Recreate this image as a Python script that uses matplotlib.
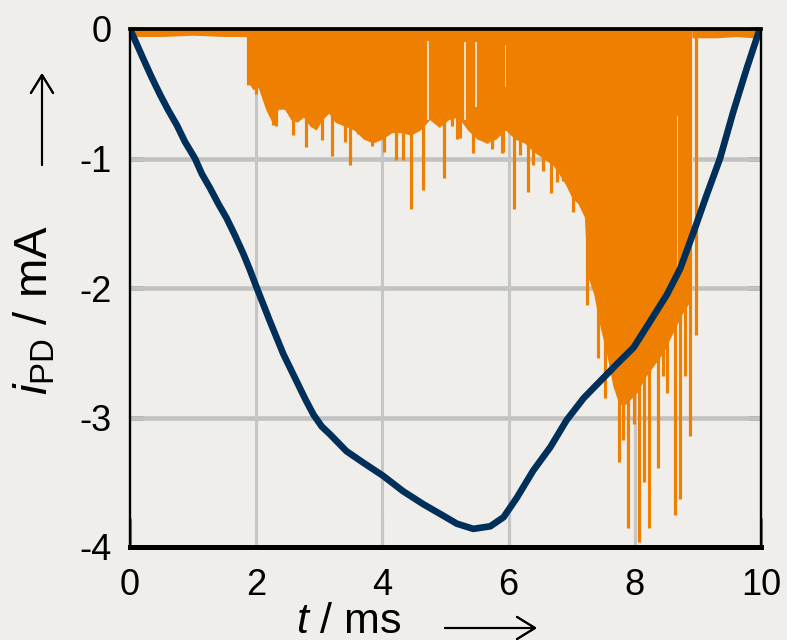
import numpy as np
import matplotlib
matplotlib.use("Agg")
import matplotlib.pyplot as plt

plt.rcParams['font.family'] = ['Liberation Sans', 'DejaVu Sans']
plt.rcParams['mathtext.fontset'] = 'custom'
plt.rcParams['mathtext.rm'] = 'Liberation Sans'
plt.rcParams['mathtext.it'] = 'Liberation Sans:italic'

# blue trace: t in ms, i in mA
blue_t = [0.0, 0.11, 0.21, 0.34, 0.48, 0.61, 0.74, 0.87, 1.03, 1.14, 1.27, 1.40,
          1.53, 1.66, 1.80, 1.90, 2.01, 2.22, 2.43, 2.64, 2.78, 2.91, 3.04, 3.17,
          3.43, 3.70, 4.01, 4.33, 4.65, 4.97, 5.18, 5.44, 5.71, 5.92, 6.13, 6.39,
          6.66, 6.92, 7.19, 7.45, 7.71, 7.98, 8.24, 8.51, 8.72, 8.93, 9.14, 9.35,
          9.56, 9.77, 9.98]
blue_i = [0.0, -0.12, -0.23, -0.37, -0.51, -0.63, -0.74, -0.87, -1.00, -1.12, -1.23, -1.35,
          -1.46, -1.59, -1.74, -1.86, -2.00, -2.26, -2.51, -2.72, -2.86, -2.98, -3.07, -3.13,
          -3.26, -3.35, -3.45, -3.57, -3.67, -3.76, -3.82, -3.86, -3.84, -3.77, -3.62, -3.41,
          -3.23, -3.02, -2.85, -2.72, -2.59, -2.46, -2.26, -2.05, -1.85, -1.57, -1.28, -1.00,
          -0.64, -0.31, 0.0]

# orange trace: quiet baseline, dense core and single spikes
base_left_t = [0.0, 0.5, 1.0, 1.5, 1.86]
base_left_i = [-0.05, -0.05, -0.04, -0.05, -0.05]
base_right_t = [8.92, 9.3, 9.6, 9.9, 10.0]
base_right_i = [-0.06, -0.06, -0.05, -0.06, -0.05]

core_t = [1.86, 1.95, 2.03, 2.15, 2.25, 2.35, 2.45, 2.55, 2.65, 2.75, 2.85, 2.95,
          3.05, 3.15, 3.25, 3.40, 3.55, 3.70, 3.85, 4.00, 4.15, 4.30, 4.45, 4.60,
          4.75, 4.90, 5.05, 5.20, 5.35, 5.50, 5.65, 5.80, 5.95, 6.10, 6.25, 6.40,
          6.55, 6.70, 6.80, 6.90, 7.00, 7.10, 7.20, 7.25, 7.35, 7.45, 7.55, 7.65,
          7.75, 7.85, 7.95, 8.05, 8.15, 8.30, 8.45, 8.60, 8.75, 8.88]
core_i = [-0.40, -0.47, -0.45, -0.62, -0.72, -0.62, -0.62, -0.70, -0.72, -0.68, -0.75, -0.78,
          -0.70, -0.65, -0.72, -0.75, -0.78, -0.85, -0.88, -0.85, -0.80, -0.80, -0.82, -0.78,
          -0.70, -0.76, -0.70, -0.68, -0.78, -0.85, -0.88, -0.85, -0.78, -0.85, -0.88, -0.95,
          -1.00, -1.05, -1.12, -1.20, -1.30, -1.35, -1.45, -1.90, -2.05, -2.30, -2.50, -2.75,
          -2.90, -2.90, -2.85, -2.80, -2.70, -2.60, -2.50, -2.35, -2.20, -2.10]

spike_t = [1.87, 1.99, 2.27, 2.31, 2.59, 2.79, 3.05, 3.20, 3.41, 3.48, 3.62, 3.83,
           4.03, 4.21, 4.32, 4.46, 4.65, 4.91, 4.98, 5.10, 5.18, 5.23, 5.44, 5.65,
           5.73, 5.89, 5.91, 6.08, 6.18, 6.30, 6.38, 6.55, 6.67, 6.76, 6.87, 7.02,
           7.08, 7.13, 7.24, 7.32, 7.34, 7.41, 7.52, 7.68, 7.75, 7.81, 7.90, 7.98,
           8.07, 8.15, 8.23, 8.36, 8.44, 8.51, 8.63, 8.71, 8.80, 8.87, 8.97]
spike_i = [-0.43, -0.50, -0.74, -0.75, -0.82, -0.91, -0.86, -0.98, -0.87, -1.05, -0.81, -0.90,
           -0.95, -1.01, -1.01, -1.39, -1.24, -0.74, -1.15, -0.75, -0.85, -0.84, -0.96, -0.88,
           -0.93, -0.96, -0.95, -1.39, -0.97, -1.26, -1.05, -1.10, -1.27, -1.18, -1.17, -1.41,
           -1.33, -1.33, -2.13, -1.92, -1.63, -2.54, -2.85, -2.78, -3.34, -3.17, -3.85, -3.05,
           -3.96, -3.50, -3.85, -3.39, -2.68, -2.81, -3.75, -3.63, -2.68, -3.14, -2.36]

# thin gaps where the orange signal briefly returned to zero
gap_t = [4.72, 5.31, 5.48, 5.95, 8.67, 8.91]
gap_top = [-0.09, -0.10, -0.10, -0.12, -0.67, -0.08]
gap_bottom = [-0.70, -0.70, -0.60, -0.45, -1.85, -1.55]

bg = '#efeeeb'
orange = '#ef7f00'
navy = '#00305a'

fig = plt.figure(figsize=(7.87, 6.4), dpi=100, facecolor=bg)
ax = fig.add_axes([130/787, 93/640, 631/787, 518/640], facecolor=bg)

ax.fill_between(core_t, 0, core_i, color=orange, lw=0, zorder=2)
ax.vlines(gap_t, gap_bottom, gap_top, color=bg, lw=1.2, zorder=2.1)
ax.vlines(spike_t, 0, spike_i, color=orange, lw=2.3, zorder=2.2)
ax.fill_between(base_left_t, 0, base_left_i, color=orange, lw=1.5, edgecolor=orange, zorder=2)
ax.fill_between(base_right_t, 0, base_right_i, color=orange, lw=1.5, edgecolor=orange, zorder=2)
ax.plot(blue_t, blue_i, color=navy, lw=4.8, solid_capstyle='round',
        solid_joinstyle='round', zorder=3)

ax.set_xlim(0, 10)
ax.set_ylim(-4, 0)
ax.set_xticks([0, 2, 4, 6, 8, 10])
ax.set_yticks([0, -1, -2, -3, -4])
ax.set_yticklabels(['0', '-1', '-2', '-3', '-4'])

ax.set_axisbelow(True)
for y in [-1, -2, -3]:
    ax.axhline(y, color='#c2c2c2', lw=3.3, zorder=0.8)
for x in [2, 4, 6, 8]:
    ax.axvline(x, color='#c6c6c6', lw=2.2, zorder=0.8)

ax.tick_params(axis='x', direction='in', length=21, width=2.2, color='#808080',
               labelsize=26, pad=15, top=False)
ax.tick_params(axis='y', direction='in', length=9.5, width=3.3, color='#808080',
               labelsize=26, pad=13, right=True)

ax.spines['top'].set_linewidth(2.7)
ax.spines['bottom'].set_linewidth(3.6)
ax.spines['left'].set_linewidth(1.7)
ax.spines['right'].set_linewidth(1.7)
for s in ax.spines.values():
    s.set_zorder(4)

fig.text(35/787, 1 - 310/640, r'$i_{\rm PD}$ / mA', rotation=90, fontsize=34,
         ha='center', va='center')
fig.text(349/787, 7/640, r'$t$ / ms', fontsize=31, ha='center', va='baseline')

arrow = dict(arrowstyle='->,head_length=0.65,head_width=0.4', lw=1.5, color='black',
             mutation_scale=20, shrinkA=0, shrinkB=0)
fig.add_artist(plt.annotate('', xy=(42/787, 1 - 73/640), xytext=(42/787, 1 - 165/640),
                            xycoords='figure fraction', arrowprops=arrow))
fig.add_artist(plt.annotate('', xy=(537/787, 1 - 628/640), xytext=(445/787, 1 - 628/640),
                            xycoords='figure fraction', arrowprops=arrow))

fig.savefig('out.png', dpi=100, facecolor=bg)
